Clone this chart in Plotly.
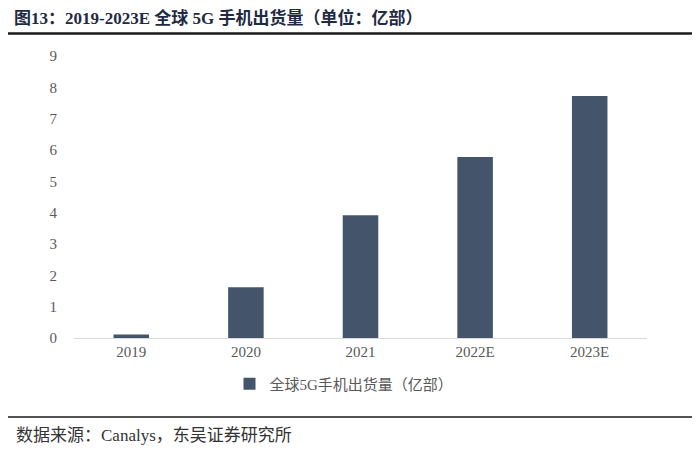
import plotly.graph_objects as go

categories = ["2019", "2020", "2021", "2022E", "2023E"]
shipments = [0.11, 1.62, 3.92, 5.78, 7.72]
y_ticks = [0, 1, 2, 3, 4, 5, 6, 7, 8, 9]
series_name = "全球5G手机出货量（亿部）"
title_text = "图13：2019-2023E 全球 5G 手机出货量（单位：亿部）"
source_text = "数据来源：Canalys，东吴证券研究所"

# page is rendered with an 8px body margin, so work in figure pixels = page - 8
OFF = 8
W, H = 700 - OFF, 454 - OFF
L, R, T, B = 74 - OFF, 700 - 647, 56 - OFF, 454 - 338
pw = W - L - R
ph = H - T - B

def px_x(x):
    return (x - OFF - L) / pw

def px_y(y):
    return (H - B - (y - OFF)) / ph

serif = "Liberation Serif, Times New Roman, Noto Sans CJK SC"

fig = go.Figure()
fig.add_trace(go.Bar(
    x=categories, y=shipments, name=series_name,
    marker=dict(color="#44546A", line=dict(width=0)),
    showlegend=True,
))

fig.update_layout(
    width=W, height=H,
    margin=dict(l=L, r=R, t=T, b=B),
    paper_bgcolor="white", plot_bgcolor="white",
    bargap=0.69,
    font=dict(family=serif, color="#595959", size=15),
    showlegend=True,
    legend=dict(orientation="h", x=px_x(344), xanchor="center", y=px_y(384), yanchor="middle",
                font=dict(size=15, color="#595959"), itemwidth=30),
    xaxis=dict(showline=True, linecolor="#D9D9D9", linewidth=1, showgrid=False,
               ticks="", tickfont=dict(size=15, color="#595959"), fixedrange=True),
    yaxis=dict(range=[0, 9], tickvals=y_ticks, showline=False, showgrid=False,
               zeroline=False, ticks="", tickfont=dict(size=15, color="#595959"),
               ticklabelstandoff=16),
)

fig.add_annotation(xref="paper", yref="paper", x=px_x(12), y=px_y(18),
                   xanchor="left", yanchor="middle", showarrow=False,
                   text="<b>" + title_text + "</b>",
                   font=dict(family=serif, size=17, color="#1F2A44"))
fig.add_shape(type="line", xref="paper", yref="paper",
              x0=px_x(5), x1=px_x(696), y0=px_y(33.5), y1=px_y(33.5),
              line=dict(color="#1a1a1a", width=2.5))
fig.add_shape(type="line", xref="paper", yref="paper",
              x0=px_x(5), x1=px_x(696), y0=px_y(417), y1=px_y(417),
              line=dict(color="#1a1a1a", width=1.5))
fig.add_annotation(xref="paper", yref="paper", x=px_x(14), y=px_y(435),
                   xanchor="left", yanchor="middle", showarrow=False,
                   text=source_text,
                   font=dict(family=serif, size=17, color="#333333"))

fig.write_html("out.html")
